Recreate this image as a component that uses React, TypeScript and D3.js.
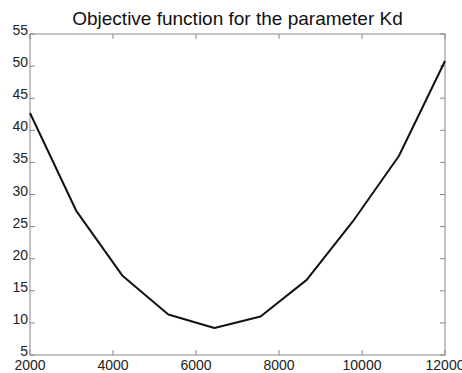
import * as d3 from "d3";

const kdValues = [2000, 3111, 4222, 5333, 6444, 7556, 8667, 9778, 10889, 12000];
const objectiveValues = [42.7, 27.5, 17.4, 11.3, 9.2, 11.0, 16.7, 25.8, 36.0, 50.8];
const xTicks = [2000, 4000, 6000, 8000, 10000, 12000];
const yTicks = [5, 10, 15, 20, 25, 30, 35, 40, 45, 50, 55];

const W = 462;
const H = 373;
const m = { top: 34, right: 17, bottom: 18, left: 30 };
const axisColor = "#888";
const tickLen = 5;

export default function App() {
  const x = d3.scaleLinear().domain([2000, 12000]).range([m.left, W - m.right]);
  const y = d3.scaleLinear().domain([5, 55]).range([H - m.bottom, m.top]);
  const line = d3
    .line<number>()
    .x((_d, i) => x(kdValues[i]))
    .y((d) => y(d));

  const x0 = x.range()[0];
  const x1 = x.range()[1];
  const y0 = y.range()[0];
  const y1 = y.range()[1];

  return (
    <svg
      width={W}
      height={H}
      style={{ position: "absolute", left: 0, top: 0, background: "#fff" }}
      fontFamily="'Liberation Sans', Arial, sans-serif"
    >
      <text x={(x0 + x1) / 2} y={25} textAnchor="middle" fontSize={19} fill="#111">
        Objective function for the parameter Kd
      </text>

      {xTicks.map((t) => (
        <g key={"x" + t}>
          <line x1={x(t)} x2={x(t)} y1={y0} y2={y0 - tickLen} stroke={axisColor} />
          <line x1={x(t)} x2={x(t)} y1={y1} y2={y1 + tickLen} stroke={axisColor} />
          <text x={x(t)} y={y0 + 15} textAnchor="middle" fontSize={14} fill="#222">
            {t}
          </text>
        </g>
      ))}
      {yTicks.map((t) => (
        <g key={"y" + t}>
          <line x1={x0} x2={x0 + tickLen} y1={y(t)} y2={y(t)} stroke={axisColor} />
          <line x1={x1} x2={x1 - tickLen} y1={y(t)} y2={y(t)} stroke={axisColor} />
          <text x={x0 - 2} y={y(t) + 1} textAnchor="end" fontSize={14} fill="#222">
            {t}
          </text>
        </g>
      ))}

      <rect
        x={x0}
        y={y1}
        width={x1 - x0}
        height={y0 - y1}
        fill="none"
        stroke={axisColor}
        strokeWidth={1}
      />

      <path d={line(objectiveValues) ?? ""} fill="none" stroke="#111" strokeWidth={2} strokeLinejoin="round" />
    </svg>
  );
}
